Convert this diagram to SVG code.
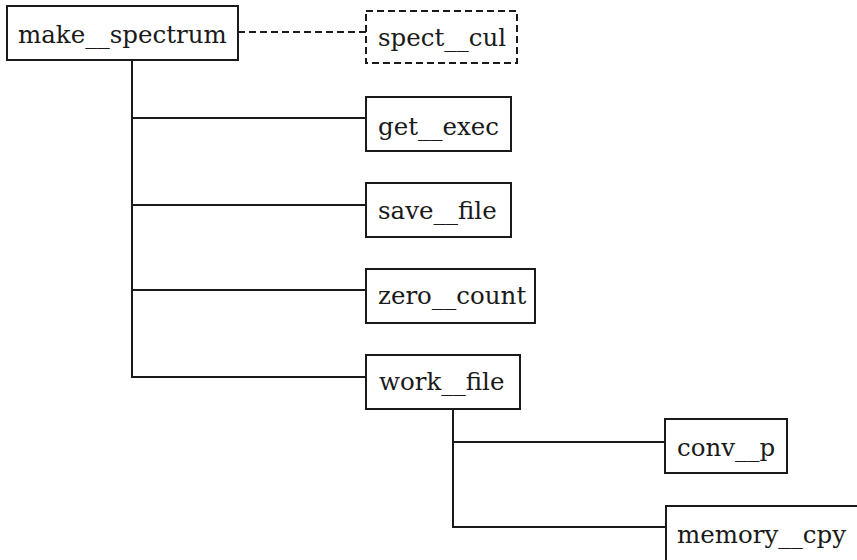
<svg xmlns="http://www.w3.org/2000/svg" width="857" height="560" viewBox="0 0 857 560">
  <style>
    .box { fill: #fff; stroke: #1a1a1a; stroke-width: 2; }
    .dash { fill: #fff; stroke: #1a1a1a; stroke-width: 2; stroke-dasharray: 7 4; }
    .wire { fill: none; stroke: #1a1a1a; stroke-width: 2; }
    .wire-dash { fill: none; stroke: #1a1a1a; stroke-width: 2; stroke-dasharray: 7 4; }
    .lbl { font-family: "DejaVu Serif", "Liberation Serif", serif; font-size: 24.5px; fill: #1a1a1a; }
  </style>
  <rect width="857" height="560" fill="#fff"/>

  <g id="connectors">
    <line class="wire-dash" x1="238" y1="32" x2="366" y2="32"/>
    <path class="wire" d="M132 60 V377 H366"/>
    <line class="wire" x1="132" y1="118" x2="366" y2="118"/>
    <line class="wire" x1="132" y1="205" x2="366" y2="205"/>
    <line class="wire" x1="132" y1="290" x2="366" y2="290"/>
    <path class="wire" d="M453 409 V527 H666"/>
    <line class="wire" x1="453" y1="442" x2="665" y2="442"/>
  </g>

  <g id="make_spectrum">
    <rect class="box" x="7" y="6" width="231" height="54"/>
    <text class="lbl" x="18" y="43">make__spectrum</text>
  </g>
  <g id="spect_cul">
    <rect class="dash" x="366" y="11" width="151" height="52"/>
    <text class="lbl" x="378" y="46">spect__cul</text>
  </g>
  <g id="get_exec">
    <rect class="box" x="366" y="97" width="145" height="54"/>
    <text class="lbl" x="378" y="135">get__exec</text>
  </g>
  <g id="save_file">
    <rect class="box" x="366" y="183" width="145" height="54"/>
    <text class="lbl" x="378" y="219">save__file</text>
  </g>
  <g id="zero_count">
    <rect class="box" x="366" y="269" width="169" height="54"/>
    <text class="lbl" x="378" y="304">zero__count</text>
  </g>
  <g id="work_file">
    <rect class="box" x="366" y="355" width="154" height="54"/>
    <text class="lbl" x="379" y="390">work__file</text>
  </g>
  <g id="conv_p">
    <rect class="box" x="665" y="419" width="122" height="54"/>
    <text class="lbl" x="677" y="456">conv__p</text>
  </g>
  <g id="memory_cpy">
    <rect class="box" x="666" y="506" width="220" height="80"/>
    <text class="lbl" x="677" y="543">memory__cpy</text>
  </g>
</svg>
